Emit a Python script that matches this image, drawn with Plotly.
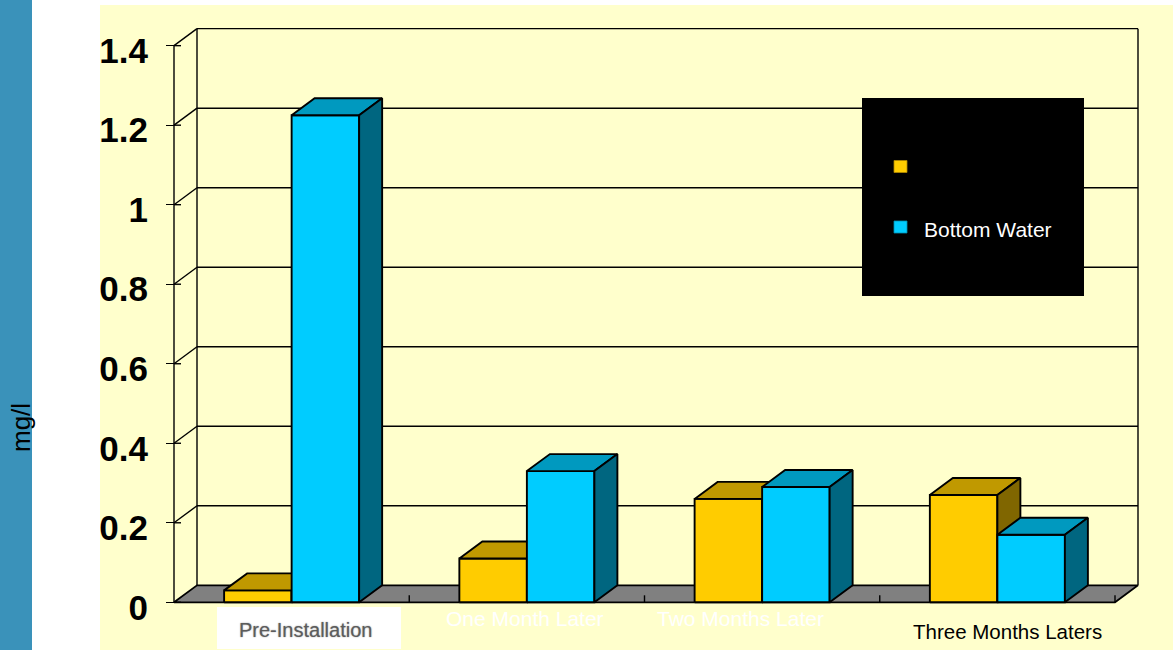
import plotly.graph_objects as go

# ---- data ----
categories = ["Pre-Installation", "One Month Later", "Two Months Later", "Three Months Laters"]
series1_values = [0.03, 0.11, 0.26, 0.27]
bottom_water_values = [1.225, 0.33, 0.29, 0.17]
y_tick_values = [0, 0.2, 0.4, 0.6, 0.8, 1.0, 1.2, 1.4]
y_tick_labels = ["0", "0.2", "0.4", "0.6", "0.8", "1", "1.2", "1.4"]
legend_labels = ["", "Bottom Water"]
y_title = "mg/l"

# ---- page / axis calibration ----
W, H = 1173, 650
X_LEFT_PX = 174.0      # front-left corner of the floor
CAT_PX = 235.25        # width of one category slot
Y_ZERO_PX = 602.3      # value 0 on the front axis
VAL_PX = 397.6         # pixels per unit of value
DEPTH_PX = (23.0, 17.0)

FONT = "Arial, 'Liberation Sans', sans-serif"
EDGE = "black"
YELLOW = dict(front="#FFCC00", top="#C09900", side="#806600")
BLUE = dict(front="#00CCFF", top="#0099BF", side="#006680")
FLOOR = "#808080"


def u_at(px):
    return -0.5 + (px - X_LEFT_PX) / CAT_PX


def v_at(py):
    return (Y_ZERO_PX - py) / VAL_PX


def paper_x(px):
    return px / W


def paper_y(py):
    return 1 - py / H


DX = DEPTH_PX[0] / CAT_PX
DY = DEPTH_PX[1] / VAL_PX
BAR_W = 0.287
N = len(categories)
Y_MAX = y_tick_values[-1]
X0, X1 = -0.5, N - 0.5

fig = go.Figure()


def polygon(pts, fill, width=1.9):
    xs = [p[0] for p in pts] + [pts[0][0]]
    ys = [p[1] for p in pts] + [pts[0][1]]
    fig.add_trace(go.Scatter(x=xs, y=ys, mode="lines", fill="toself", fillcolor=fill,
                             line=dict(color=EDGE, width=width),
                             hoverinfo="skip", showlegend=False))


def segments(segs, width=1.4):
    xs, ys = [], []
    for (xa, ya), (xb, yb) in segs:
        xs += [xa, xb, None]
        ys += [ya, yb, None]
    fig.add_trace(go.Scatter(x=xs, y=ys, mode="lines", line=dict(color=EDGE, width=width),
                             hoverinfo="skip", showlegend=False))


def bar3d(x0, x1, v, col):
    polygon([(x0, 0), (x1, 0), (x1, v), (x0, v)], col["front"])
    polygon([(x0, v), (x1, v), (x1 + DX, v + DY), (x0 + DX, v + DY)], col["top"])
    polygon([(x1, 0), (x1 + DX, DY), (x1 + DX, v + DY), (x1, v)], col["side"])


# floor
polygon([(X0, 0), (X1, 0), (X1 + DX, DY), (X0 + DX, DY)], FLOOR, width=1.7)

# back wall frame and gridlines
wall = [((X0 + DX, DY), (X0 + DX, Y_MAX + DY)), ((X1 + DX, DY), (X1 + DX, Y_MAX + DY))]
wall += [((X0 + DX, t + DY), (X1 + DX, t + DY)) for t in y_tick_values[1:]]
# side wall diagonals and the front value axis
wall += [((X0, t), (X0 + DX, t + DY)) for t in y_tick_values[1:]]
wall += [((X0, 0), (X0, Y_MAX))]
# inner halves of the value ticks
tick_in = 7.0 / CAT_PX
wall += [((X0, t), (X0 + tick_in, t)) for t in y_tick_values]
# category ticks along the front edge of the floor
wall += [((X0 + k, 0), (X0 + k, 7.0 / VAL_PX)) for k in range(1, N + 1)]
segments(wall)

# bars
for i in range(N):
    bar3d(i - BAR_W, i, series1_values[i], YELLOW)
    bar3d(i, i + BAR_W, bottom_water_values[i], BLUE)

shapes = [
    # left band, white margin, pale panel
    dict(type="rect", xref="paper", yref="paper", x0=0, x1=paper_x(32), y0=0, y1=1,
         fillcolor="#3A92BA", line=dict(width=0), layer="below"),
    dict(type="rect", xref="paper", yref="paper", x0=paper_x(100), x1=1, y0=0, y1=paper_y(5),
         fillcolor="#FFFFCC", line=dict(width=0), layer="below"),
    # white label plate behind the first category name
    dict(type="rect", xref="paper", yref="paper", x0=paper_x(217), x1=paper_x(401),
         y0=paper_y(649), y1=paper_y(607), fillcolor="white", line=dict(width=0), layer="below"),
    # legend box and swatches
    dict(type="rect", xref="paper", yref="paper", x0=paper_x(862), x1=paper_x(1084),
         y0=paper_y(296), y1=paper_y(98), fillcolor="black", line=dict(width=0)),
    dict(type="rect", xref="paper", yref="paper", x0=paper_x(894), x1=paper_x(907),
         y0=paper_y(172.5), y1=paper_y(160.5), fillcolor=YELLOW["front"],
         line=dict(color="#B08800", width=0.8)),
    dict(type="rect", xref="paper", yref="paper", x0=paper_x(894), x1=paper_x(907),
         y0=paper_y(233), y1=paper_y(221), fillcolor=BLUE["front"],
         line=dict(color="#0090B0", width=0.8)),
]

annotations = [
    dict(text=y_title, xref="paper", yref="paper", x=paper_x(21), y=paper_y(428),
         textangle=-90, showarrow=False, xanchor="center", yanchor="middle",
         font=dict(family=FONT, size=26, color="black")),
    dict(text=legend_labels[0], xref="paper", yref="paper", x=paper_x(925), y=paper_y(166),
         showarrow=False, xanchor="left", yanchor="middle",
         font=dict(family=FONT, size=21, color="black")),
    dict(text=legend_labels[1], xref="paper", yref="paper", x=paper_x(925), y=paper_y(229),
         xshift=-3, showarrow=False, xanchor="left", yanchor="middle",
         font=dict(family=FONT, size=21, color="white")),
]

label_style = [
    dict(xshift=14, y=630, color="#5C5C5C", size=20, shadow="0px 0px 1.5px #8A8A8A"),
    dict(xshift=-2, y=618.5, color="white", size=21, shadow="none"),
    dict(xshift=-22, y=618.5, color="white", size=21, shadow="none"),
    dict(xshift=10, y=631, color="black", size=20.5, shadow="none"),
]
for i, name in enumerate(categories):
    st = label_style[i]
    annotations.append(dict(text=name, xref="x", yref="paper", x=i, y=paper_y(st["y"]),
                            xshift=st["xshift"], showarrow=False,
                            xanchor="center", yanchor="middle",
                            font=dict(family=FONT, size=st["size"], color=st["color"],
                                      shadow=st["shadow"])))

fig.update_layout(
    template="none",
    width=W, height=H, autosize=False,
    margin=dict(l=0, r=0, t=0, b=0, pad=0),
    paper_bgcolor="white", plot_bgcolor="rgba(0,0,0,0)",
    showlegend=False,
    shapes=shapes, annotations=annotations,
    xaxis=dict(domain=[0, 1], range=[u_at(0), u_at(W)], visible=False, fixedrange=True),
    yaxis=dict(domain=[0, 1], range=[v_at(H), v_at(0)], anchor="free", position=X_LEFT_PX / W,
               showgrid=False, zeroline=False, showline=False, automargin=False,
               tickmode="array", tickvals=y_tick_values, ticktext=y_tick_labels,
               ticks="outside", ticklen=8, tickwidth=1.4, tickcolor="black",
               ticklabelstandoff=11, ticklabelshift=5,
               tickfont=dict(family=FONT, size=35, color="black", weight="bold"),
               fixedrange=True),
)

fig.write_html("out.html")
